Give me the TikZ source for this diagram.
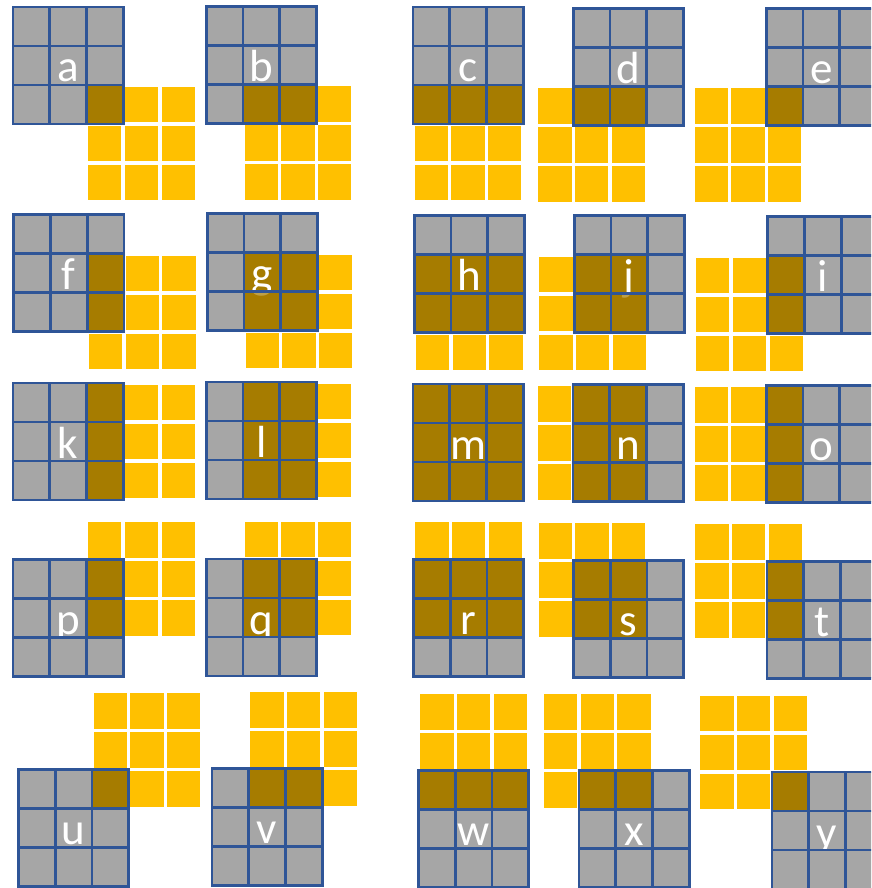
\documentclass[tikz,border=0pt]{standalone}
\usepackage{fontspec}
\newfontfamily\labfont{Carlito}
\definecolor{gry}{RGB}{166,166,166}
\definecolor{yel}{RGB}{255,192,0}
\definecolor{drk}{RGB}{166,124,0}
\definecolor{blu}{RGB}{47,85,151}
\def\cw{36.7}
\def\ch{39.0}
\def\ins{1.7}
\tikzset{
  ycell/.style={fill=yel},
  gridline/.style={draw=blu,line width=2.8pt,line cap=square},
  lab/.style={text=white,inner sep=0pt,font=\labfont\fontsize{45}{45}\selectfont},
}
% #1 gx, #2 gy, #3 dx, #4 dy, #5 label
\newcommand\mypanel[5]{%
\begin{scope}[shift={(#1,#2)}]
  \foreach \c in {0,1,2}{\foreach \r in {0,1,2}{
    \fill[ycell] ({(#3+\c)*\cw+\ins},{(#4+\r)*\ch+\ins}) rectangle ++({\cw-2*\ins},{\ch-2*\ins});
  }}
  \foreach \c in {0,1,2}{\foreach \r in {0,1,2}{
    \pgfmathtruncatemacro\ov{(\c>=#3)*(\c<=#3+2)*(\r>=#4)*(\r<=#4+2)}
    \ifnum\ov=1 \def\fc{drk}\else\def\fc{gry}\fi
    \fill[\fc] ({\c*\cw},{\r*\ch}) rectangle ++(\cw,\ch);
  }}
  \node[lab,anchor=base] (lab-#5) at ({1.5*\cw},{2*\ch-3}) {#5};
  \pgfmathtruncatemacro\ovb{(1>=#3)*(1<=#3+2)*(2>=#4)*(2<=#4+2)}
  \ifnum\ovb=1
    \fill[drk,fill opacity=0.72] ({\cw},{2*\ch}) rectangle ++(\cw,\ch);
  \else
    \fill[gry] ({\cw},{2*\ch}) rectangle ++(\cw,\ch);
  \fi
  \draw[gridline] (0,0) rectangle ({3*\cw},{3*\ch});
  \foreach \i in {1,2}{
    \draw[gridline] ({\i*\cw},0) -- ({\i*\cw},{3*\ch});
    \draw[gridline] (0,{\i*\ch}) -- ({3*\cw},{\i*\ch});
  }
\end{scope}}
\begin{document}
\begin{tikzpicture}[x=1pt,y=-1pt]
\useasboundingbox (0,0) rectangle (871,888);
\clip (0,0) rectangle (871,888);
\fill[white] (0,0) rectangle (871,888);
\mypanel{13}{7}{2}{2}{a}
\mypanel{206.3}{6.3}{1}{2}{b}
\mypanel{413}{7}{0}{2}{c}
\mypanel{573.3}{8.3}{-1}{2}{d}
\mypanel{766.3}{8.3}{-2}{2}{e}
\mypanel{13.8}{214.8}{2}{1}{f}
\mypanel{207.3}{213.8}{1}{1}{g}
\mypanel{414.3}{215.8}{0}{1}{h}
\mypanel{574.3}{215.8}{-1}{1}{j}
\mypanel{767.8}{216.8}{-2}{1}{i}
\mypanel{13}{383}{2}{0}{k}
\mypanel{206.3}{382}{1}{0}{l}
\mypanel{413}{384}{0}{0}{m}
\mypanel{573}{384.6}{-1}{0}{n}
\mypanel{766.3}{385.3}{-2}{0}{o}
\mypanel{13}{559.6}{2}{-1}{p}
\mypanel{206.3}{559}{1}{-1}{q}
\mypanel{413.6}{559.6}{0}{-1}{r}
\mypanel{573.6}{560.6}{-1}{-1}{s}
\mypanel{767}{561.3}{-2}{-1}{t}
\mypanel{18.6}{769.6}{2}{-2}{u}
\mypanel{212}{768.6}{1}{-2}{v}
\mypanel{418.6}{770.6}{0}{-2}{w}
\mypanel{579}{770.6}{-1}{-2}{x}
\mypanel{772}{772}{-2}{-2}{y}
\end{tikzpicture}
\end{document}
